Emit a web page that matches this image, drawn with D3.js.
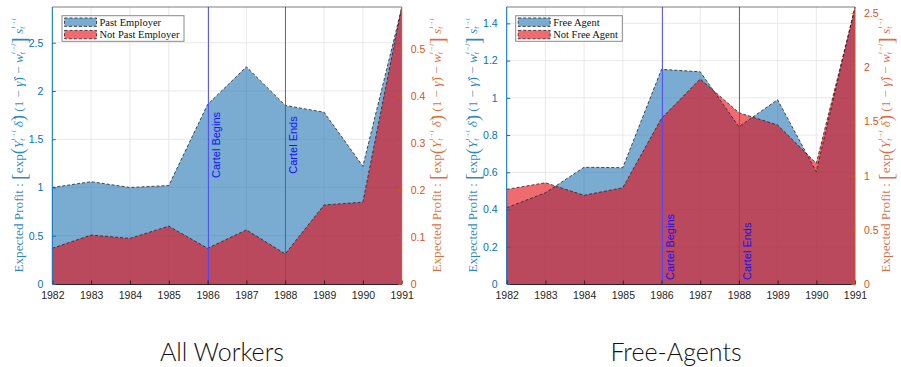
<!DOCTYPE html>
<html><head><meta charset="utf-8">
<script src="https://cdn.jsdelivr.net/npm/d3@7"></script>
<style>body{margin:0;background:#fff}svg{display:block}</style>
</head><body>
<svg id="c" width="901" height="367"></svg>
<script>
// ---------- data ----------
const years = [1982,1983,1984,1985,1986,1987,1988,1989,1990,1991];
const pastEmployer    = [1.00,1.06,1.00,1.02,1.86,2.25,1.85,1.78,1.22,2.86];
const notPastEmployer = [0.076,0.104,0.097,0.123,0.076,0.115,0.064,0.168,0.174,0.589];
const freeAgent       = [0.41,0.49,0.627,0.625,1.153,1.14,0.845,0.99,0.603,1.488];
const notFreeAgent    = [0.874,0.935,0.819,0.889,1.53,1.893,1.582,1.468,1.114,2.55];
const cartelYears = [1986, 1988];
const cartelLabels = ["Cartel Begins", "Cartel Ends"];
const allLeftTicks  = [0,0.5,1,1.5,2,2.5];
const allRightTicks = [0,0.1,0.2,0.3,0.4,0.5];
const faLeftTicks   = [0,0.2,0.4,0.6,0.8,1,1.2,1.4];
const faRightTicks  = [0,0.5,1,1.5,2,2.5];
const titles = ["All Workers", "Free-Agents"];
const legendNames = [["Past Employer","Not Past Employer"],["Free Agent","Not Free Agent"]];

// ---------- layout ----------
const BLUE_AX = "#0072BD", ORANGE_AX = "#D95319";
const panels = [
  {x0:52.3, x1:401.7, top:7, bottom:284, lMax:2.87, rMax:0.589,
   lTicks:allLeftTicks, rTicks:allRightTicks, blue:pastEmployer, red:notPastEmployer,
   names:legendNames[0], title:titles[0], titleX:222,
   legend:{x:62, y:15.7, w:122, h:25.6},
   cartelMode:"middle", cartelY:145,
   lLabelX:19.5, rLabelX:438},
  {x0:506.7, x1:855, top:7, bottom:284, lMax:1.488, rMax:2.558,
   lTicks:faLeftTicks, rTicks:faRightTicks, blue:freeAgent, red:notFreeAgent,
   names:legendNames[1], title:titles[1], titleX:676,
   legend:{x:515.7, y:15.7, w:106.6, h:25.6},
   cartelMode:"start", cartelY:280,
   lLabelX:474, rLabelX:887}
];

const svg = d3.select("#c");
const fmt = d => String(+d.toFixed(2));

function yLabel(g, cx, cy, color) {
  const B = 13.2;
  const segs = [
    {t:"Expected Profit : ", s:B},
    {t:"[", s:20, sh:-1},
    {t:"exp", s:B},
    {t:"(", s:18, sh:-0.5},
    {t:"Y", s:B, it:1},
    {t:"t", s:8, it:1, sh:-3},
    {t:"i\u2192j", s:6.5, it:1, sh:6, dx:-2},
    {t:" \u03B4\u0302", s:B, it:1},
    {t:")", s:18, sh:-0.5},
    {t:" (1 \u2212 ", s:B},
    {t:"\u03B3\u0302", s:B, it:1},
    {t:") \u2212 ", s:B},
    {t:"w", s:B, it:1},
    {t:"t", s:8, it:1, sh:-3},
    {t:"i\u2192j", s:6.5, it:1, sh:6, dx:-2},
    {t:"]", s:20, sh:-1},
    {t:" s", s:B, it:1},
    {t:"t", s:8, it:1, sh:-3},
    {t:"i\u2192j", s:6.5, it:1, sh:6, dx:-2}
  ];
  const t = g.append("text")
    .attr("transform", `translate(${cx},${cy}) rotate(-90)`)
    .attr("text-anchor","middle")
    .attr("dominant-baseline","middle")
    .attr("font-family","'Liberation Serif','DejaVu Serif',serif")
    .attr("fill", color).attr("fill-opacity",0.85);
  let prev = 0;
  segs.forEach(sg => {
    const sh = sg.sh || 0;
    t.append("tspan").text(sg.t)
      .attr("font-size", sg.s)
      .attr("font-style", sg.it ? "italic" : "normal")
      .attr("dy", -(sh - prev))
      .attr("dx", sg.dx || 0);
    prev = sh;
  });
}

panels.forEach((p, pi) => {
  const g = svg.append("g");
  const x = d3.scaleLinear().domain([years[0], years[years.length-1]]).range([p.x0, p.x1]);
  const yl = d3.scaleLinear().domain([0, p.lMax]).range([p.bottom, p.top]);
  const yr = d3.scaleLinear().domain([0, p.rMax]).range([p.bottom, p.top]);

  // grid
  g.append("g").selectAll("line").data(years).join("line")
    .attr("x1", d => x(d)).attr("x2", d => x(d))
    .attr("y1", p.top).attr("y2", p.bottom)
    .attr("stroke","#e3e3e3").attr("stroke-width",0.8);
  g.append("g").selectAll("line").data(p.lTicks).join("line")
    .attr("x1", p.x0).attr("x2", p.x1)
    .attr("y1", d => yl(d)).attr("y2", d => yl(d))
    .attr("stroke","#e3e3e3").attr("stroke-width",0.8);

  // areas
  const aL = d3.area().x((d,i) => x(years[i])).y0(p.bottom).y1(d => yl(d));
  const aR = d3.area().x((d,i) => x(years[i])).y0(p.bottom).y1(d => yr(d));
  const lL = d3.line().x((d,i) => x(years[i])).y(d => yl(d));
  const lR = d3.line().x((d,i) => x(years[i])).y(d => yr(d));
  g.append("path").datum(p.blue).attr("d", aL).attr("fill","rgb(33,115,177)").attr("fill-opacity",0.6);
  g.append("path").datum(p.red).attr("d", aR).attr("fill","rgb(228,8,17)").attr("fill-opacity",0.6);
  g.append("path").datum(p.blue).attr("d", lL).attr("fill","none")
    .attr("stroke","#222").attr("stroke-width",0.8).attr("stroke-dasharray","3,2");
  g.append("path").datum(p.red).attr("d", lR).attr("fill","none")
    .attr("stroke","#222").attr("stroke-width",0.8).attr("stroke-dasharray","3,2");

  // cartel lines
  cartelYears.forEach((cy, i) => {
    const cx = Math.round(x(cy)) + 0.5;
    g.append("line").attr("x1", cx).attr("x2", cx)
      .attr("y1", p.top).attr("y2", p.bottom)
      .attr("stroke","#4a4aff").attr("stroke-width",0.9);
    g.append("text").text(cartelLabels[i])
      .attr("transform", `translate(${cx+11},${p.cartelY}) rotate(-90)`)
      .attr("text-anchor", p.cartelMode)
      .attr("font-family","'Liberation Sans',Arial,sans-serif")
      .attr("font-size",11).attr("fill","#1010ff");
  });

  // box
  g.append("line").attr("x1",p.x0).attr("x2",p.x1).attr("y1",p.top).attr("y2",p.top)
    .attr("stroke","#262626").attr("stroke-width",0.6);
  const xa = g.append("g").attr("transform",`translate(0,${p.bottom})`)
    .call(d3.axisBottom(x).tickValues(years).tickFormat(d3.format("d")).tickSizeInner(-3.5).tickSizeOuter(0).tickPadding(8));
  xa.select(".domain").attr("stroke","#262626");
  xa.selectAll(".tick line").attr("stroke","#262626");
  xa.selectAll("text").attr("font-family","'Liberation Sans',Arial,sans-serif").attr("font-size",10.5).attr("fill","#262626");

  const la = g.append("g").attr("transform",`translate(${p.x0},0)`)
    .call(d3.axisLeft(yl).tickValues(p.lTicks).tickFormat(fmt).tickSizeInner(-3.5).tickSizeOuter(0).tickPadding(9));
  la.select(".domain").attr("stroke",BLUE_AX).attr("d",`M0,${p.top}V${p.bottom}`);
  la.selectAll(".tick line").attr("stroke",BLUE_AX);
  la.selectAll("text").attr("font-family","'Liberation Sans',Arial,sans-serif").attr("font-size",10.5).attr("fill",BLUE_AX);

  const ra = g.append("g").attr("transform",`translate(${p.x1},0)`)
    .call(d3.axisRight(yr).tickValues(p.rTicks).tickFormat(fmt).tickSizeInner(-3.5).tickSizeOuter(0).tickPadding(9));
  ra.select(".domain").attr("stroke",ORANGE_AX).attr("d",`M0,${p.top}V${p.bottom}`);
  ra.selectAll(".tick line").attr("stroke",ORANGE_AX);
  ra.selectAll("text").attr("font-family","'Liberation Sans',Arial,sans-serif").attr("font-size",10.5).attr("fill",ORANGE_AX);

  // axis labels
  yLabel(g, p.lLabelX, (p.top+p.bottom)/2, BLUE_AX);
  yLabel(g, p.rLabelX, (p.top+p.bottom)/2, ORANGE_AX);

  // legend
  const L = p.legend;
  const lg = g.append("g");
  lg.append("rect").attr("x",L.x).attr("y",L.y).attr("width",L.w).attr("height",L.h)
    .attr("fill","#fff").attr("stroke","#8a8a8a").attr("stroke-width",1);
  const sw = [{c:"rgb(33,115,177)"},{c:"rgb(228,8,17)"}];
  p.names.forEach((n, i) => {
    const yy = L.y + 2.3 + i*12.4;
    lg.append("rect").attr("x",L.x+2.5).attr("y",yy).attr("width",32).attr("height",8.4)
      .attr("fill",sw[i].c).attr("fill-opacity",0.6)
      .attr("stroke","#222").attr("stroke-width",0.8).attr("stroke-dasharray","3,2");
    lg.append("text").text(n).attr("x",L.x+37.5).attr("y",yy+7.6)
      .attr("font-family","'Liberation Serif','Times New Roman',serif")
      .attr("font-size",10.5).attr("fill","#111");
  });

  // title
  svg.append("text").text(p.title).attr("x",p.titleX).attr("y",361)
    .attr("text-anchor","middle").attr("font-family","Lato,'Open Sans',sans-serif")
    .attr("font-weight",300).attr("font-size",25).attr("fill","#111");
});
</script>
</body></html>
